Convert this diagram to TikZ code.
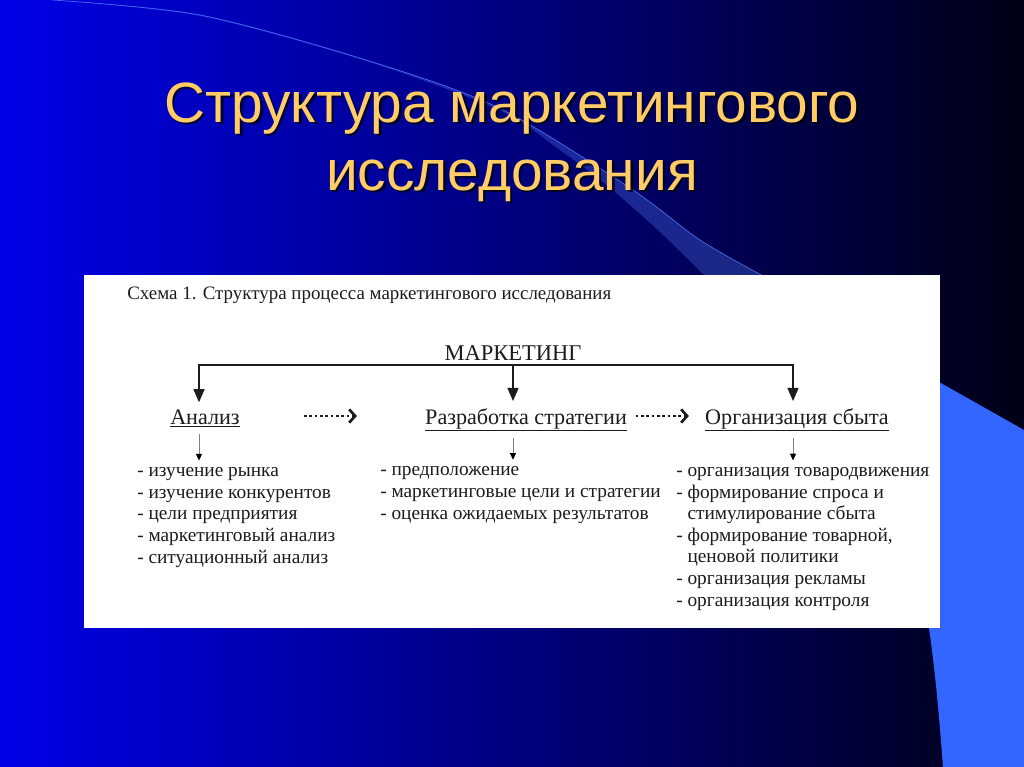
\documentclass[tikz,border=0pt]{standalone}
\usepackage{fontspec}
\setmainfont{Liberation Serif}
\setsansfont{Liberation Sans}
\usetikzlibrary{arrows.meta,positioning,calc}
\definecolor{slideblue}{RGB}{0,0,232}
\definecolor{slidemid}{RGB}{0,0,180}
\definecolor{slidenavy}{RGB}{0,0,22}
\definecolor{accentblue}{RGB}{51,102,255}
\definecolor{swooshblue}{RGB}{90,130,255}
\definecolor{titlegold}{RGB}{255,204,102}
\definecolor{inktext}{RGB}{28,28,28}

\begin{document}
\begin{tikzpicture}[x=0.75pt,y=-0.75pt,
    titletext/.style={font=\sffamily\fontsize{42.6}{51}\selectfont, align=center, anchor=base},
    heading/.style={font=\fontsize{16.6}{19}\selectfont, text=inktext, inner sep=5pt, anchor=base},
    itemlist/.style={font=\fontsize{14.5}{16.2}\selectfont, text=inktext, align=left, inner sep=0pt, anchor=base west},
    fork/.style={line width=1.9pt, inktext, -{Triangle[length=10pt,width=8pt]}},
    smallarrow/.style={gray, line width=0.5pt, shorten >=5pt, -{Triangle[length=5pt,width=4.5pt,color=black]}},
    dotarrow/.style={line width=2pt, inktext, dotted, -{Straight Barb[length=4.5pt,width=10pt,line width=2pt]}}
  ]
  \useasboundingbox (0,0) rectangle (1024,767);
  % slide background
  \shade[left color=slideblue, middle color=slidemid, right color=slidenavy] (0,0) rectangle (1024,767);
  \fill[accentblue] (900,360) -- (1024,430) -- (1024,767) -- (943,767)
    .. controls (938,700) and (933,650) .. (926,610) -- cycle;
  \fill[swooshblue, opacity=.3] plot[smooth] coordinates {(52,0) (200,15) (366,60) (499,108) (630,188) (700,240) (765,277)}
    -- plot[smooth] coordinates {(706,277) (660,232) (610,188) (560,150) (499,110) (366,61) (200,16) (52,0)} -- cycle;
  \draw[swooshblue, line width=.5pt, opacity=.8] plot[smooth] coordinates {(52,0) (200,15) (366,60) (499,108) (630,188) (700,240) (765,277)};

  % title (base = last line)
  \node[titletext, text=black, opacity=.7] (titleshadow) at (514.5,192.5) {Структура маркетингового\\исследования};
  \node[titletext, text=titlegold] (title) at (512,190) {Структура маркетингового\\исследования};

  % white sheet with the scheme
  \fill[white] (84,275) rectangle (940,628);
  \node[font=\fontsize{14.2}{16}\selectfont, text=inktext, inner sep=0pt, anchor=base west] (caption) at (127,299)
    {Схема 1. Структура процесса маркетингового исследования};
  \node[font=\fontsize{16.9}{19}\selectfont, text=inktext, inner sep=0pt, anchor=base] (market) at (513,360) {МАРКЕТИНГ};

  \node[heading] (analysis) at (205,424) {\underline{Анализ}};
  \node[heading] (strategy) at (526,424) {\underline{Разработка стратегии}};
  \node[heading] (sales) at (797,424) {\underline{Организация сбыта}};

  % lists, placed by the baseline of their last line
  \node[itemlist] (anlist) at (137,563) {- изучение рынка\\- изучение конкурентов\\- цели предприятия\\- маркетинговый анализ\\- ситуационный анализ};
  \node[itemlist] (stlist) at (380,519) {- предположение\\- маркетинговые цели и стратегии\\- оценка ожидаемых результатов};
  \node[itemlist] (salist) at (676,606) {- организация товародвижения\\- формирование спроса и\\\phantom{- }стимулирование сбыта\\- формирование товарной,\\\phantom{- }ценовой политики\\- организация рекламы\\- организация контроля};

  % connectors
  \coordinate (bar) at (513,365);
  \coordinate (fl) at (199,365);
  \coordinate (fr) at (793,365);
  \draw[fork] (bar) -- (fl) -- (fl |- analysis.north);
  \draw[fork] (bar) -- (fr) -- (fr |- sales.north);
  \draw[fork] (bar) -- (bar |- strategy.north);

  \draw[dotarrow, shorten <=43pt, shorten >=46pt] ($(analysis.base east)+(0,-8)$) -- ($(strategy.base west)+(0,-8)$);
  \draw[dotarrow, shorten <=1.5pt, shorten >=7pt] ($(strategy.base east)+(0,-8)$) -- ($(sales.base west)+(0,-8)$);

  \draw[smallarrow] (fl |- analysis.south) -- (fl |- anlist.north);
  \draw[smallarrow] (bar |- strategy.south) -- (bar |- stlist.north);
  \draw[smallarrow] (fr |- sales.south) -- (fr |- salist.north);
\end{tikzpicture}
\end{document}
